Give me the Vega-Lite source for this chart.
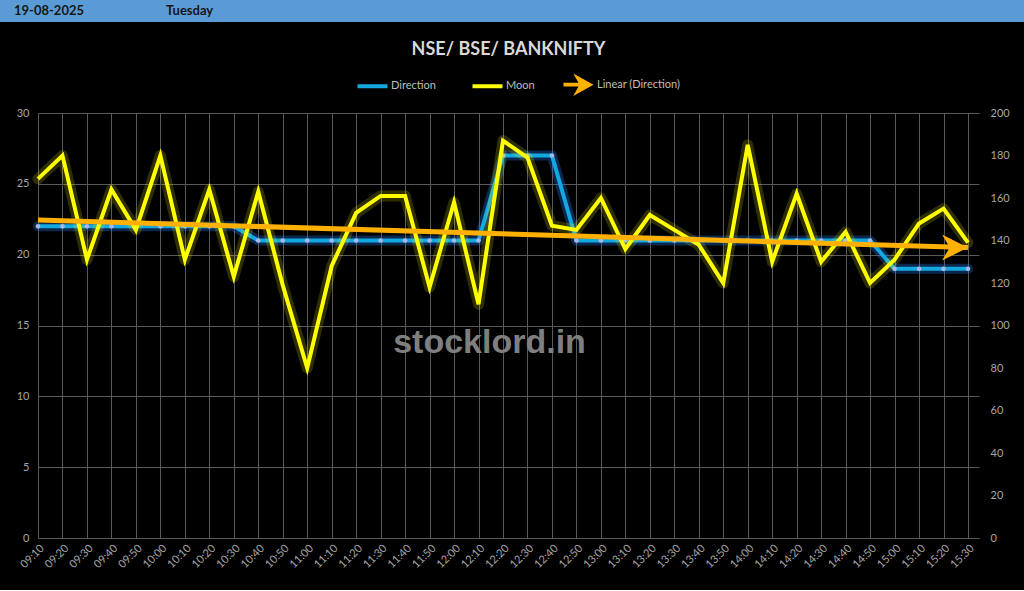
{
  "$schema": "https://vega.github.io/schema/vega-lite/v6.json",
  "background": "#000000",
  "padding": {"left": 0, "top": 0, "right": 0, "bottom": 20},
  "spacing": 19,
  "config": {
    "font": "Lato",
    "view": {"stroke": null}
  },
  "resolve": {"scale": {"color": "independent"}, "legend": {"color": "independent"}},
  "datasets": {
    "trend": [
      {"time": "09:10", "trend": 22.45},
      {"time": "15:30", "trend": 20.5}
    ]
  },
  "vconcat": [
    {
      "width": 986,
      "height": 22,
      "view": {"fill": "#5B9BD5", "stroke": null},
      "resolve": {"scale": {"x": "independent"}},
      "layer": [
        {
          "data": {"values": [{"band": "header"}]},
          "mark": {"type": "rect", "color": "#5B9BD5"},
          "encoding": {
            "x": {"field": "band", "type": "nominal", "scale": {"type": "band", "range": [-38, 986], "paddingInner": 0, "paddingOuter": 0}, "axis": null}
          }
        },
        {
          "data": {"values": [{"label": "19-08-2025"}, {"label": "Tuesday"}]},
          "mark": {"type": "text", "align": "left", "baseline": "middle", "font": "Lato", "fontWeight": "bold", "fontSize": 13, "color": "#161616"},
          "encoding": {
            "x": {"field": "label", "type": "nominal", "scale": {"type": "point", "domain": ["19-08-2025", "Tuesday"], "range": [-24, 128], "padding": 0}, "axis": null},
            "text": {"field": "label", "type": "nominal"}
          }
        }
      ]
    },
    {
      "width": 941,
      "height": 425,
      "view": {"stroke": null},
      "title": {"text": "NSE/ BSE/ BANKNIFTY", "color": "#D9D9D9", "fontSize": 18, "font": "Lato", "fontWeight": "bold", "anchor": "middle", "offset": 20},
      "data": {
        "values": [
          {"time": "09:10", "direction": 22, "moon": 169},
          {"time": "09:20", "direction": 22, "moon": 180},
          {"time": "09:30", "direction": 22, "moon": 131},
          {"time": "09:40", "direction": 22, "moon": 164},
          {"time": "09:50", "direction": 22, "moon": 145},
          {"time": "10:00", "direction": 22, "moon": 180},
          {"time": "10:10", "direction": 22, "moon": 131},
          {"time": "10:20", "direction": 22, "moon": 164},
          {"time": "10:30", "direction": 22, "moon": 123},
          {"time": "10:40", "direction": 21, "moon": 163},
          {"time": "10:50", "direction": 21, "moon": 119},
          {"time": "11:00", "direction": 21, "moon": 80},
          {"time": "11:10", "direction": 21, "moon": 128},
          {"time": "11:20", "direction": 21, "moon": 153},
          {"time": "11:30", "direction": 21, "moon": 161},
          {"time": "11:40", "direction": 21, "moon": 161},
          {"time": "11:50", "direction": 21, "moon": 118},
          {"time": "12:00", "direction": 21, "moon": 158},
          {"time": "12:10", "direction": 21, "moon": 110},
          {"time": "12:20", "direction": 27, "moon": 187},
          {"time": "12:30", "direction": 27, "moon": 179},
          {"time": "12:40", "direction": 27, "moon": 147},
          {"time": "12:50", "direction": 21, "moon": 145},
          {"time": "13:00", "direction": 21, "moon": 160},
          {"time": "13:10", "direction": 21, "moon": 136},
          {"time": "13:20", "direction": 21, "moon": 152},
          {"time": "13:30", "direction": 21, "moon": 145},
          {"time": "13:40", "direction": 21, "moon": 138},
          {"time": "13:50", "direction": 21, "moon": 120},
          {"time": "14:00", "direction": 21, "moon": 185},
          {"time": "14:10", "direction": 21, "moon": 130},
          {"time": "14:20", "direction": 21, "moon": 162},
          {"time": "14:30", "direction": 21, "moon": 130},
          {"time": "14:40", "direction": 21, "moon": 144},
          {"time": "14:50", "direction": 21, "moon": 120},
          {"time": "15:00", "direction": 19, "moon": 131},
          {"time": "15:10", "direction": 19, "moon": 148},
          {"time": "15:20", "direction": 19, "moon": 155},
          {"time": "15:30", "direction": 19, "moon": 139}
        ]
      },
      "resolve": {"scale": {"y": "independent"}, "axis": {"y": "independent"}},
      "layer": [
        {
          "encoding": {
            "x": {
              "field": "time", "type": "ordinal",
              "scale": {"type": "point", "padding": 0.225, "align": 0},
              "axis": {"title": null, "labelAngle": -45, "labelOverlap": false, "labelColor": "#A6A6A6", "labelFontSize": 11, "labelFont": "Lato", "labelPadding": 4, "grid": true, "gridColor": "#595959", "gridWidth": 1, "ticks": false, "domainColor": "#595959", "domainWidth": 1}
            }
          },
          "layer": [
            {
              "data": {"values": [{"w": "stocklord.in"}]},
              "mark": {"type": "text", "font": "Liberation Sans", "fontWeight": "bold", "fontSize": 34, "color": "#7F7F7F", "align": "center", "baseline": "middle", "dx": 11},
              "encoding": {
                "x": {"datum": "12:10", "type": "ordinal"},
                "y": {"datum": 13.8, "type": "quantitative"},
                "text": {"field": "w", "type": "nominal"}
              }
            },
            {
              "mark": {"type": "line", "color": "#1F6FE0", "opacity": 0.35, "strokeWidth": 10, "strokeJoin": "round", "strokeCap": "round"},
              "encoding": {"y": {"field": "direction", "type": "quantitative"}}
            },
            {
              "mark": {"type": "line", "strokeWidth": 4, "strokeJoin": "round"},
              "encoding": {
                "y": {"field": "direction", "type": "quantitative", "scale": {"domain": [0, 30]},
                  "axis": {"orient": "left", "title": null, "values": [0, 5, 10, 15, 20, 25, 30], "grid": true, "gridColor": "#595959", "domain": false, "ticks": false, "labelColor": "#A6A6A6", "labelFontSize": 11, "labelFont": "Lato", "labelPadding": 9, "minExtent": 38}},
                "color": {"datum": "Direction", "type": "nominal",
                  "scale": {"domain": ["Direction", "Moon", "Linear (Direction)"], "range": ["#12A8E0", "#FFFF00", "#FFB000"]},
                  "legend": {
                    "orient": "none", "legendX": 329, "legendY": -34, "direction": "horizontal", "title": null,
                    "symbolType": "stroke", "symbolSize": 900, "symbolStrokeWidth": 4,
                    "labelColor": "#BFBFBF", "labelFontSize": 11, "labelFont": "Lato", "labelOffset": 13,
                    "columnPadding": 28,
                    "encode": {"symbols": {"update": {
                      "shape": {"signal": "datum.value === 'Linear (Direction)' ? 'M-1,-0.12L0,-0.12L-0.35,-0.75L1,0L-0.35,0.75L0,0.12L-1,0.12Z' : 'stroke'"},
                      "fill": {"signal": "datum.value === 'Linear (Direction)' ? '#FFB000' : 'transparent'"},
                      "strokeWidth": {"signal": "datum.value === 'Linear (Direction)' ? 0 : 4"}
                    }}}
                  }
                }
              }
            },
            {
              "mark": {"type": "point", "filled": true, "color": "#A9B5E2", "size": 22, "opacity": 1},
              "encoding": {"y": {"field": "direction", "type": "quantitative"}}
            }
          ]
        },
        {
          "encoding": {"x": {"field": "time", "type": "ordinal"}},
          "layer": [
            {
              "mark": {"type": "line", "color": "#FFFF00", "opacity": 0.18, "strokeWidth": 11, "strokeJoin": "round", "strokeCap": "round"},
              "encoding": {"y": {"field": "moon", "type": "quantitative"}}
            },
            {
              "mark": {"type": "line", "strokeWidth": 4},
              "encoding": {
                "y": {"field": "moon", "type": "quantitative", "scale": {"domain": [0, 200]},
                  "axis": {"orient": "right", "title": null, "values": [0, 20, 40, 60, 80, 100, 120, 140, 160, 180, 200], "grid": false, "domain": false, "ticks": false, "labelColor": "#A6A6A6", "labelFontSize": 11, "labelFont": "Lato", "labelPadding": 11}},
                "color": {"datum": "Moon", "type": "nominal"}
              }
            }
          ]
        },
        {
          "data": {"name": "trend"},
          "encoding": {
            "x": {"field": "time", "type": "ordinal"},
            "y": {"field": "trend", "type": "quantitative", "scale": {"domain": [0, 30]}, "axis": null}
          },
          "layer": [
            {
              "mark": {"type": "line", "strokeWidth": 5},
              "encoding": {"color": {"datum": "Linear (Direction)", "type": "nominal"}}
            },
            {
              "transform": [{"filter": "datum.time === '15:30'"}],
              "mark": {"type": "point", "shape": "M-2,-1L0,0L-2,1L-1.4,0Z", "filled": true, "color": "#FFB000", "size": 676, "opacity": 1, "strokeWidth": 0}
            }
          ]
        }
      ]
    }
  ]
}
